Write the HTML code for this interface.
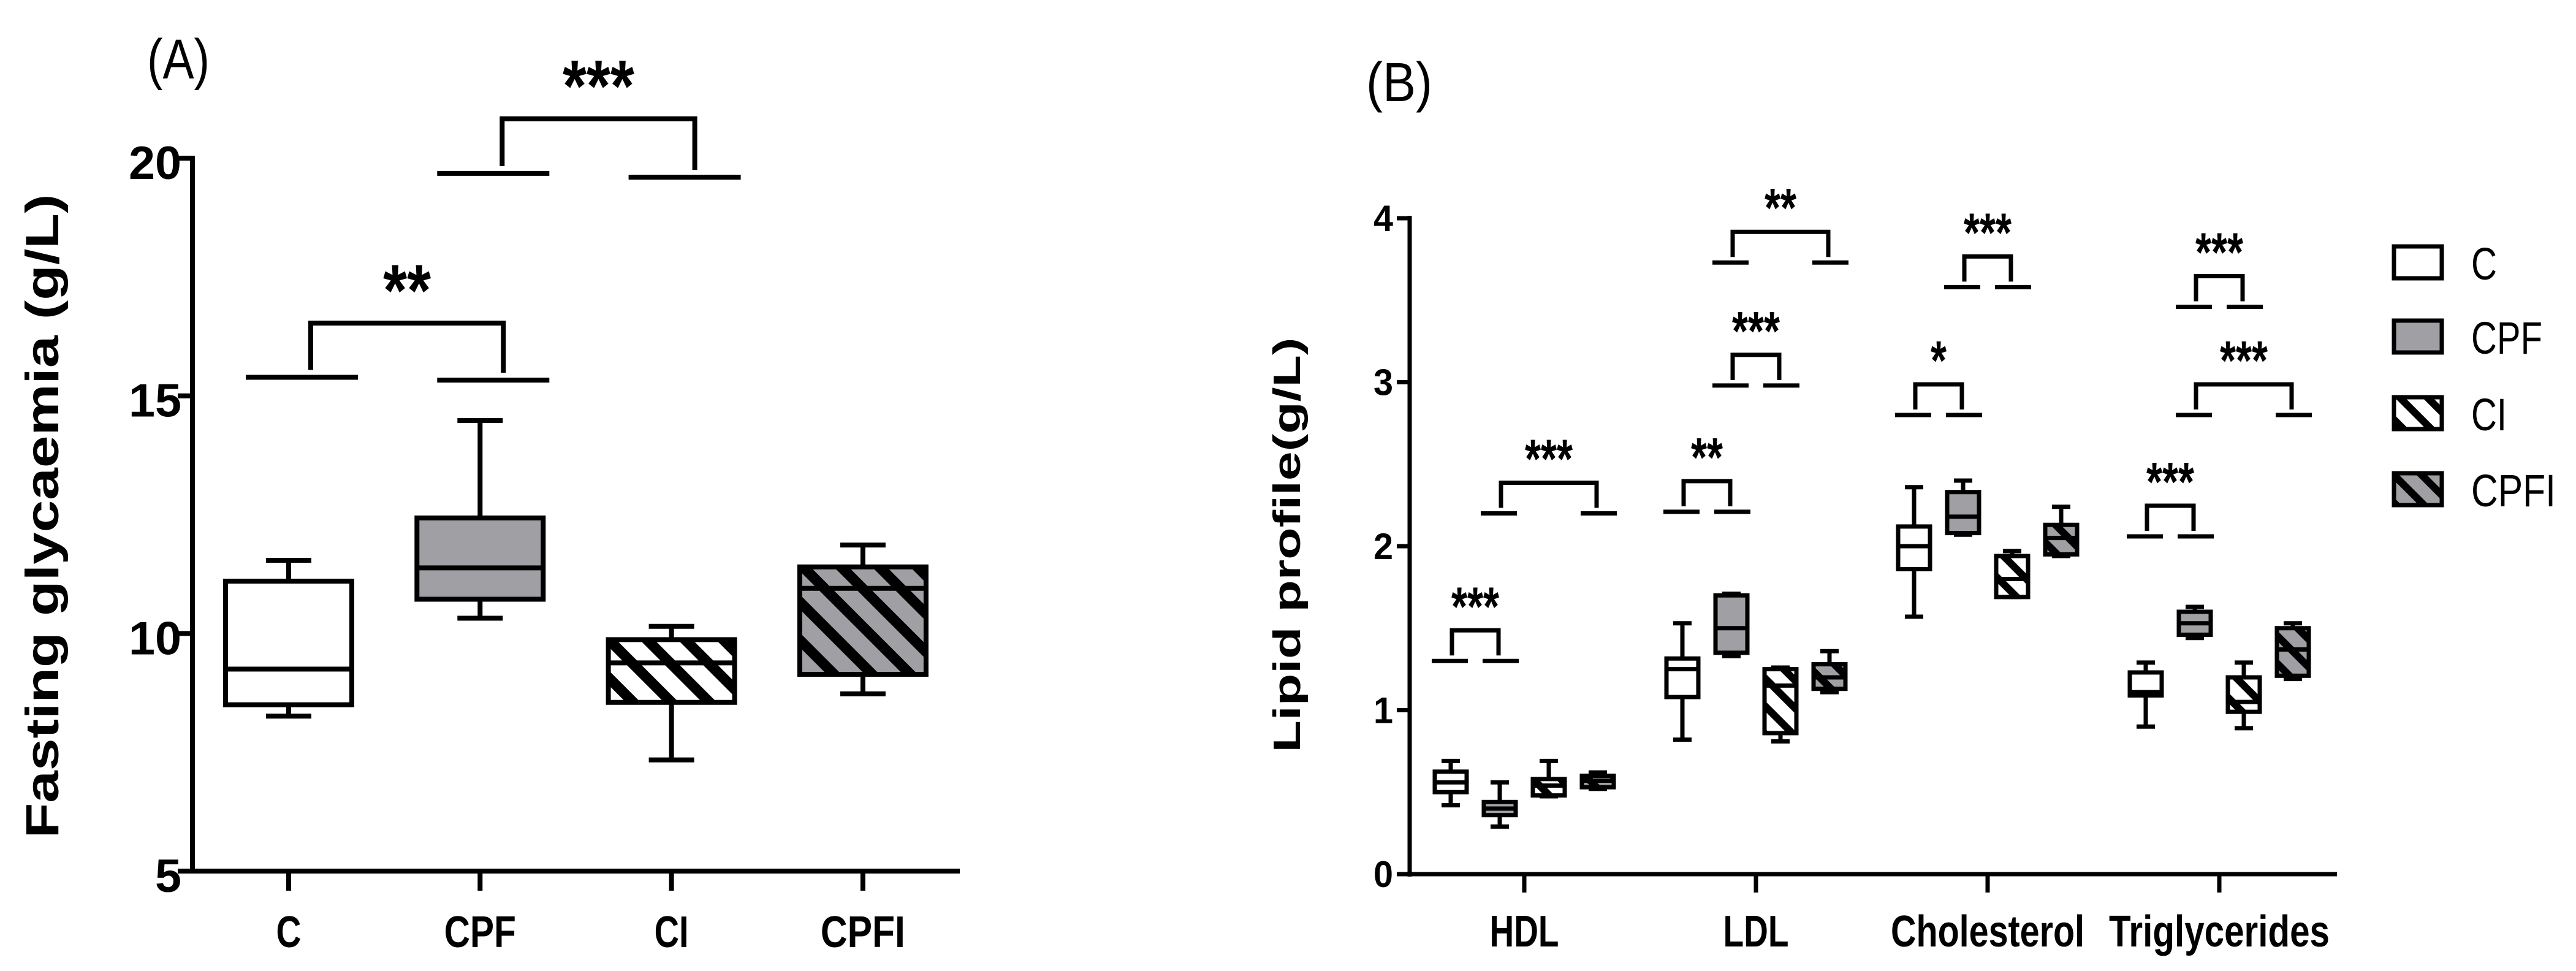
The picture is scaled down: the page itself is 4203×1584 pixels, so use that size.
<!DOCTYPE html>
<html><head><meta charset="utf-8"><style>
html,body{margin:0;padding:0;background:#fff;}
svg{display:block;font-family:"Liberation Sans",sans-serif;}
</style></head><body>
<svg id="fig" width="4203" height="1584" viewBox="0 0 4203 1584" xmlns="http://www.w3.org/2000/svg">
<defs>
<pattern id="hatchA" patternUnits="userSpaceOnUse" width="44" height="44" patternTransform="rotate(-45)">
<rect width="44" height="44" fill="none"/><rect x="0" y="0" width="17" height="44" fill="#000"/></pattern>
<pattern id="hatchB" patternUnits="userSpaceOnUse" width="32" height="32" patternTransform="rotate(-45)">
<rect x="0" y="0" width="12" height="32" fill="#000"/></pattern>
</defs>
<rect width="4203" height="1584" fill="#fff"/>
</svg>
<script>
// ---------- Panel A data ----------
const catsA = ["C","CPF","CI","CPFI"];
const whiskLowA = [8.26, 10.32, 7.34, 8.73];
const q1A = [8.5, 10.72, 8.55, 9.14];
const medA = [9.25, 11.38, 9.38, 10.95];
const q3A = [11.1, 12.43, 9.87, 11.4];
const whiskHighA = [11.54, 14.48, 10.15, 11.86];
const ticksA = [5, 10, 15, 20];
const bracketPairsA = [[0,1],[1,2]];
const bracketLeftValA = [15.39, 19.68];
const bracketRightValA = [15.33, 19.6];
const bracketTopValA = [16.53, 20.83];
const bracketStarsA = ["**","***"];
// ---------- Panel B data ----------
const groupsB = ["HDL","LDL","Cholesterol","Triglycerides"];
const seriesB = ["C","CPF","CI","CPFI"];
const whiskLowB = [[0.42,0.29,0.475,0.52],[0.82,1.33,0.81,1.11],[1.57,2.07,1.69,1.94],[0.90,1.44,0.89,1.19]];
const q1B = [[0.50,0.36,0.48,0.53],[1.08,1.35,0.86,1.13],[1.86,2.08,1.69,1.95],[1.09,1.46,0.99,1.21]];
const medB = [[0.56,0.40,0.54,0.57],[1.25,1.50,1.15,1.20],[2.00,2.18,1.80,2.05],[1.11,1.53,1.05,1.37]];
const q3B = [[0.625,0.44,0.58,0.60],[1.315,1.70,1.25,1.28],[2.12,2.33,1.94,2.13],[1.23,1.60,1.20,1.50]];
const whiskHighB = [[0.69,0.56,0.69,0.62],[1.53,1.71,1.26,1.36],[2.36,2.40,1.97,2.24],[1.29,1.63,1.29,1.53]];
const ticksB = [0,1,2,3,4];
const bracketGroupB = [0,0,1,1,1,2,2,3,3,3];
const bracketFromB = [0,1,0,1,1,0,1,0,1,1];
const bracketToB = [1,3,1,2,3,1,2,1,3,2];
const bracketValB = [1.30,2.20,2.21,2.98,3.73,2.80,3.58,2.06,2.80,3.46];
const bracketStarsB = ["***","***","**","***","**","*","***","***","***","***"];

const NS="http://www.w3.org/2000/svg";
const svg=document.getElementById('fig');
function mk(tag,attrs,parent){const e=document.createElementNS(NS,tag);for(const k in attrs)e.setAttribute(k,attrs[k]);(parent||svg).appendChild(e);return e;}
function txt(s,attrs,parent){const e=mk('text',attrs,parent);e.textContent=s;return e;}
const fillFor=["#fff","#a09fa4","#fff","#a09fa4"];

// ===== Panel A =====
const yA=v=>1421-(v-5)*77.53;
const xA=i=>471+i*312.3;
const gA=mk('g',{});


let t=txt("(A)",{x:240,y:128,"font-size":92,textLength:102,lengthAdjust:"spacingAndGlyphs"},gA);


t=txt("Fasting glycaemia (g/L)",{x:0,y:0,"font-size":76,"font-weight":"bold",textLength:1051,lengthAdjust:"spacingAndGlyphs","text-anchor":"middle",transform:"translate(95,842) rotate(-90)"},gA);


let ax=mk('line',{x1:314,y1:yA(20)-4,x2:314,y2:yA(5)+4,stroke:"#000","stroke-width":8},gA);


ax=mk('line',{x1:310,y1:yA(5),x2:1566,y2:yA(5),stroke:"#000","stroke-width":8},gA);


ticksA.forEach(v=>{
  const l=mk('line',{x1:290,y1:yA(v),x2:314,y2:yA(v),stroke:"#000","stroke-width":8},gA);
  
  
  const s=String(v);
  const tt=txt(s,{x:296,y:yA(v)+34,"font-size":76,"font-weight":"bold","text-anchor":"end",textLength:s.length*43,lengthAdjust:"spacingAndGlyphs"},gA);
  
  
});
const labWA=[41,117,56,138];
catsA.forEach((c,i)=>{
  const l=mk('line',{x1:xA(i),y1:yA(5),x2:xA(i),y2:yA(5)+32,stroke:"#000","stroke-width":8},gA);
  
  
  const tt=txt(c,{x:xA(i),y:1545,"font-size":72,"font-weight":"bold","text-anchor":"middle",textLength:labWA[i],lengthAdjust:"spacingAndGlyphs"},gA);
  
  
  const g=mk('g',{},gA);
  
  
  const cx=xA(i),hw=103,cw=37,sw=8;
  mk('line',{x1:cx,y1:yA(whiskHighA[i]),x2:cx,y2:yA(whiskLowA[i]),stroke:"#000","stroke-width":sw},g);
  mk('line',{x1:cx-cw,y1:yA(whiskHighA[i]),x2:cx+cw,y2:yA(whiskHighA[i]),stroke:"#000","stroke-width":sw},g);
  mk('line',{x1:cx-cw,y1:yA(whiskLowA[i]),x2:cx+cw,y2:yA(whiskLowA[i]),stroke:"#000","stroke-width":sw},g);
  mk('rect',{x:cx-hw,y:yA(q3A[i]),width:2*hw,height:yA(q1A[i])-yA(q3A[i]),fill:fillFor[i]},g);
  if(i>=2) mk('rect',{x:cx-hw,y:yA(q3A[i]),width:2*hw,height:yA(q1A[i])-yA(q3A[i]),fill:"url(#hatchA)"},g);
  mk('rect',{x:cx-hw,y:yA(q3A[i]),width:2*hw,height:yA(q1A[i])-yA(q3A[i]),fill:"none",stroke:"#000","stroke-width":sw},g);
  mk('line',{x1:cx-hw,y1:yA(medA[i]),x2:cx+hw,y2:yA(medA[i]),stroke:"#000","stroke-width":sw},g);
});
bracketPairsA.forEach((p,k)=>{
  const g=mk('g',{},gA);
  
  
  const a=xA(p[0]),b=xA(p[1]);
  const yl=yA(bracketLeftValA[k]),yr=yA(bracketRightValA[k]),yt=yA(bracketTopValA[k]);
  mk('line',{x1:a-70,y1:yl,x2:a+113,y2:yl,stroke:"#000","stroke-width":8},g);
  mk('line',{x1:b-70,y1:yr,x2:b+113,y2:yr,stroke:"#000","stroke-width":8},g);
  mk('polyline',{points:`${a+36},${yl-12} ${a+36},${yt} ${b+38},${yt} ${b+38},${yr-12}`,fill:"none",stroke:"#000","stroke-width":8},g);
  const st=bracketStarsA[k];
  const tt=txt(st,{x:(a+b)/2+37,y:yt-12,"font-size":120,"font-weight":"bold","text-anchor":"middle",textLength:st.length*39,lengthAdjust:"spacingAndGlyphs"},g);
  
  
});

// ===== Panel B =====
const yB=v=>1426-v*267.5;
const xG=g=>2487+g*378;
const xB=(g,k)=>xG(g)+(k-1.5)*80;
const gB=mk('g',{});


t=txt("(B)",{x:2229,y:165,"font-size":90,textLength:108,lengthAdjust:"spacingAndGlyphs"},gB);


t=txt("Lipid profile(g/L)",{x:0,y:0,"font-size":62,"font-weight":"bold",textLength:677,lengthAdjust:"spacingAndGlyphs","text-anchor":"middle",transform:"translate(2121,889) rotate(-90)"},gB);


ax=mk('line',{x1:2300,y1:yB(4)-4,x2:2300,y2:yB(0)+4,stroke:"#000","stroke-width":7},gB);


ax=mk('line',{x1:2297,y1:yB(0),x2:3813,y2:yB(0),stroke:"#000","stroke-width":7},gB);


ticksB.forEach(v=>{
  const l=mk('line',{x1:2279,y1:yB(v),x2:2300,y2:yB(v),stroke:"#000","stroke-width":7},gB);
  
  
  const tt=txt(String(v),{x:2273,y:yB(v)+21,"font-size":60,"font-weight":"bold","text-anchor":"end",textLength:32,lengthAdjust:"spacingAndGlyphs"},gB);
  
  
});
const labWB=[113,107,316,360];
groupsB.forEach((gname,g)=>{
  const l=mk('line',{x1:xG(g),y1:yB(0),x2:xG(g),y2:yB(0)+30,stroke:"#000","stroke-width":7},gB);
  
  
  const tt=txt(gname,{x:xG(g),y:1544,"font-size":72,"font-weight":"bold","text-anchor":"middle",textLength:labWB[g],lengthAdjust:"spacingAndGlyphs"},gB);
  
  
  seriesB.forEach((s,k)=>{
    const bg=mk('g',{},gB);
    
    
    const cx=xB(g,k),hw=26,cw=15,sw=7;
    mk('line',{x1:cx,y1:yB(whiskHighB[g][k]),x2:cx,y2:yB(whiskLowB[g][k]),stroke:"#000","stroke-width":sw},bg);
    mk('line',{x1:cx-cw,y1:yB(whiskHighB[g][k]),x2:cx+cw,y2:yB(whiskHighB[g][k]),stroke:"#000","stroke-width":sw},bg);
    mk('line',{x1:cx-cw,y1:yB(whiskLowB[g][k]),x2:cx+cw,y2:yB(whiskLowB[g][k]),stroke:"#000","stroke-width":sw},bg);
    const y3=yB(q3B[g][k]),h=yB(q1B[g][k])-y3;
    mk('rect',{x:cx-hw,y:y3,width:2*hw,height:h,fill:fillFor[k]},bg);
    if(k>=2) mk('rect',{x:cx-hw,y:y3,width:2*hw,height:h,fill:"url(#hatchB)"},bg);
    mk('rect',{x:cx-hw,y:y3,width:2*hw,height:h,fill:"none",stroke:"#000","stroke-width":sw},bg);
    mk('line',{x1:cx-hw,y1:yB(medB[g][k]),x2:cx+hw,y2:yB(medB[g][k]),stroke:"#000","stroke-width":sw},bg);
  });
});
bracketValB.forEach((v,k)=>{
  const g=mk('g',{},gB);
  
  
  const a=xB(bracketGroupB[k],bracketFromB[k]),b=xB(bracketGroupB[k],bracketToB[k]);
  const yl=yB(v),yt=yl-50;
  mk('line',{x1:a-31,y1:yl,x2:a+28,y2:yl,stroke:"#000","stroke-width":7},g);
  mk('line',{x1:b-28,y1:yl,x2:b+31,y2:yl,stroke:"#000","stroke-width":7},g);
  mk('polyline',{points:`${a+2},${yl-9} ${a+2},${yt} ${b-2},${yt} ${b-2},${yl-9}`,fill:"none",stroke:"#000","stroke-width":7},g);
  const st=bracketStarsB[k];
  const tt=txt(st,{x:(a+b)/2,y:yt-8,"font-size":90,"font-weight":"bold","text-anchor":"middle",textLength:st.length*26,lengthAdjust:"spacingAndGlyphs"},g);
  
  
});
// legend
const lg=mk('g',{});


const legY=[402,523,648,772];
seriesB.forEach((s,k)=>{
  const eg=mk('g',{},lg);
  
  
  mk('rect',{x:3906,y:legY[k],width:78,height:52,fill:fillFor[k]},eg);
  if(k>=2) mk('rect',{x:3906,y:legY[k],width:78,height:52,fill:"url(#hatchB)"},eg);
  mk('rect',{x:3906,y:legY[k],width:78,height:52,fill:"none",stroke:"#000","stroke-width":7},eg);
  txt(s,{x:4032,y:legY[k]+54,"font-size":74,textLength:[42,116,58,138][k],lengthAdjust:"spacingAndGlyphs"},eg);
});
</script>
</body></html>
